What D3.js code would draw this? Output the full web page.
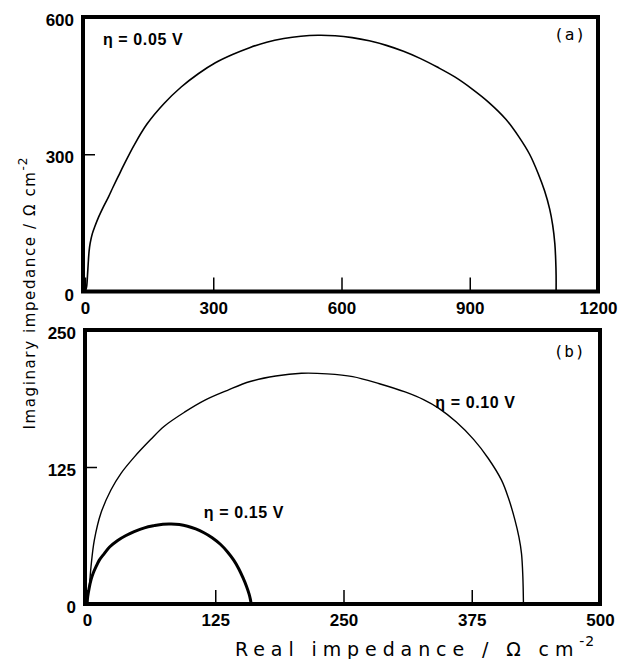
<!DOCTYPE html>
<html>
<head>
<meta charset="utf-8">
<script src="https://cdn.jsdelivr.net/npm/d3@7"></script>
<style>
  body { margin: 0; background: #fff; }
  svg { display: block; }
  .tick text { font-family: "Liberation Sans", Arial, sans-serif; font-weight: bold; font-size: 17px; fill: #000; }
  .tick line { stroke: #000; stroke-width: 1.5; }
</style>
</head>
<body>
<div class="chart"></div>
<script>
// panel (a): eta = 0.05 V
const realA = [0, 2, 4, 6, 7.7, 9.5, 12, 17, 23, 32, 43, 55, 66, 78, 90, 115, 145, 185, 225, 265, 305, 345, 385, 425, 465, 505, 545, 585, 625, 665, 705, 745, 785, 825, 865, 905, 945, 985, 1015, 1040, 1060, 1075, 1087, 1094, 1099, 1101, 1102, 1102];
const imagA = [0, 4, 12, 38, 64, 87, 105, 126, 142, 163, 185, 207, 229, 252, 275, 320, 366, 411, 447, 476, 500, 518, 533, 545, 553, 558, 560, 559, 555, 548, 538, 525, 509, 490, 469, 443, 413, 376, 338, 300, 258, 220, 180, 145, 105, 70, 35, 0];

// panel (b): eta = 0.10 V
const realB10 = [0, 0.8, 2.2, 3.9, 7.1, 13.6, 23.3, 33, 46, 62, 75, 95, 115, 137, 159, 184, 209, 234, 259, 285, 310, 328, 343, 360, 377, 391, 404, 411, 417, 421, 423.5, 424.8, 425.4];
const imagB10 = [0, 8, 16, 34, 58, 83, 104, 119, 134, 150, 162, 175, 186, 195, 203, 208, 210.5, 210, 207.5, 201, 193.5, 186.5, 178.5, 166, 150, 133, 113, 96, 77, 61, 46, 25, 0];

// panel (b): eta = 0.15 V
const realB15 = [0, 0.7, 2, 3.9, 6, 8.8, 12, 16.8, 22, 29.9, 38, 46, 56, 65.5, 74, 82, 90, 98, 106, 114, 122, 130, 137, 143, 148, 152, 155.5, 158, 159.3, 160];
const imagB15 = [0, 6.7, 14, 22, 28, 34, 40, 46, 52, 58, 62.5, 66, 69.5, 71.5, 72.8, 73, 72.5, 71, 68.5, 65, 60.5, 54.5, 47.5, 40, 32, 24, 16, 9, 4, 0];

const ticksAx = [0, 300, 600, 900, 1200];
const ticksAy = [0, 300, 600];
const ticksBx = [0, 125, 250, 375, 500];
const ticksBy = [0, 125, 250];

const w = 618, h = 659;

const svg = d3.select(".chart").append("svg")
    .attr("width", w)
    .attr("height", h);

const zip = (xs, ys) => xs.map((x, i) => [x, ys[i]]);

function panel(opt) {
  const x = d3.scaleLinear().domain(opt.xdom).range([opt.left + 2, opt.right]);
  const y = d3.scaleLinear().domain(opt.ydom).range([opt.bottom, opt.top]);

  svg.append("g")
     .attr("transform", `translate(0,${opt.bottom})`)
     .call(d3.axisBottom(x).tickValues(opt.xticks).tickFormat(d3.format("d"))
       .tickSizeInner(-14).tickSizeOuter(0).tickPadding(10))
     .call(g => g.select(".domain").remove());

  svg.append("g")
     .attr("transform", `translate(${opt.left},0)`)
     .call(d3.axisLeft(y).tickValues(opt.yticks).tickFormat(d3.format("d"))
       .tickSizeInner(-12).tickSizeOuter(0).tickPadding(9))
     .call(g => g.select(".domain").remove())
     .call(g => g.selectAll("text").attr("dy", "0.5em"));

  const line = d3.line()
      .x(d => x(d[0]))
      .y(d => y(d[1]))
      .curve(d3.curveCatmullRom.alpha(0.5));

  opt.series.forEach(s => {
    svg.append("path")
       .datum(s.data)
       .attr("fill", "none")
       .attr("stroke", "#000")
       .attr("stroke-width", s.width)
       .attr("d", line);
  });

  svg.append("rect")
     .attr("x", opt.left)
     .attr("y", opt.top)
     .attr("width", opt.right - opt.left)
     .attr("height", opt.bottom - opt.top)
     .attr("fill", "none")
     .attr("stroke", "#000")
     .attr("stroke-width", 4);

  opt.labels.forEach(l => {
    svg.append("text")
       .attr("x", x(l.at[0]))
       .attr("y", y(l.at[1]))
       .attr("text-anchor", l.anchor || "start")
       .style("font-family", l.mono ? "'DejaVu Sans Mono', monospace" : "'Liberation Sans', Arial, sans-serif")
       .style("font-weight", l.mono ? "normal" : "bold")
       .style("font-size", "16px")
       .style("letter-spacing", l.mono ? "1px" : "0.6px")
       .text(l.text);
  });
}

panel({
  left: 83, right: 598, top: 17, bottom: 291.5,
  xdom: [0, 1200], ydom: [0, 600],
  xticks: ticksAx, yticks: ticksAy,
  series: [{ data: zip(realA, imagA), width: 1.6 }],
  labels: [
    { text: "η = 0.05 V", at: [42, 539] },
    { text: "(a)", at: [1172, 550], anchor: "end", mono: true }
  ]
});

panel({
  left: 85, right: 600, top: 330, bottom: 604,
  xdom: [0, 500], ydom: [0, 250],
  xticks: ticksBx, yticks: ticksBy,
  series: [
    { data: zip(realB10, imagB10), width: 1.4 },
    { data: zip(realB15, imagB15), width: 3 }
  ],
  labels: [
    { text: "η = 0.10 V", at: [339.5, 178.8] },
    { text: "η = 0.15 V", at: [113.8, 78.5] },
    { text: "(b)", at: [486, 225.4], anchor: "end", mono: true }
  ]
});

// axis titles
const xt = svg.append("text")
    .attr("x", 235)
    .attr("y", 656)
    .style("font-family", "'DejaVu Sans', sans-serif")
    .style("font-size", "19px")
    .style("letter-spacing", "5.9px");
xt.append("tspan").text("Real impedance / Ω cm");
xt.append("tspan").attr("dy", -10).style("font-size", "14px").style("letter-spacing", "1px").text("-2");

const yt = svg.append("text")
    .attr("transform", "translate(35,293) rotate(-90)")
    .attr("text-anchor", "middle")
    .style("font-family", "'DejaVu Sans', sans-serif")
    .style("font-size", "15px")
    .style("letter-spacing", "1.6px");
yt.append("tspan").text("Imaginary impedance / Ω cm");
yt.append("tspan").attr("dy", -8).style("font-size", "12px").style("letter-spacing", "1px").text("-2");
</script>
</body>
</html>
